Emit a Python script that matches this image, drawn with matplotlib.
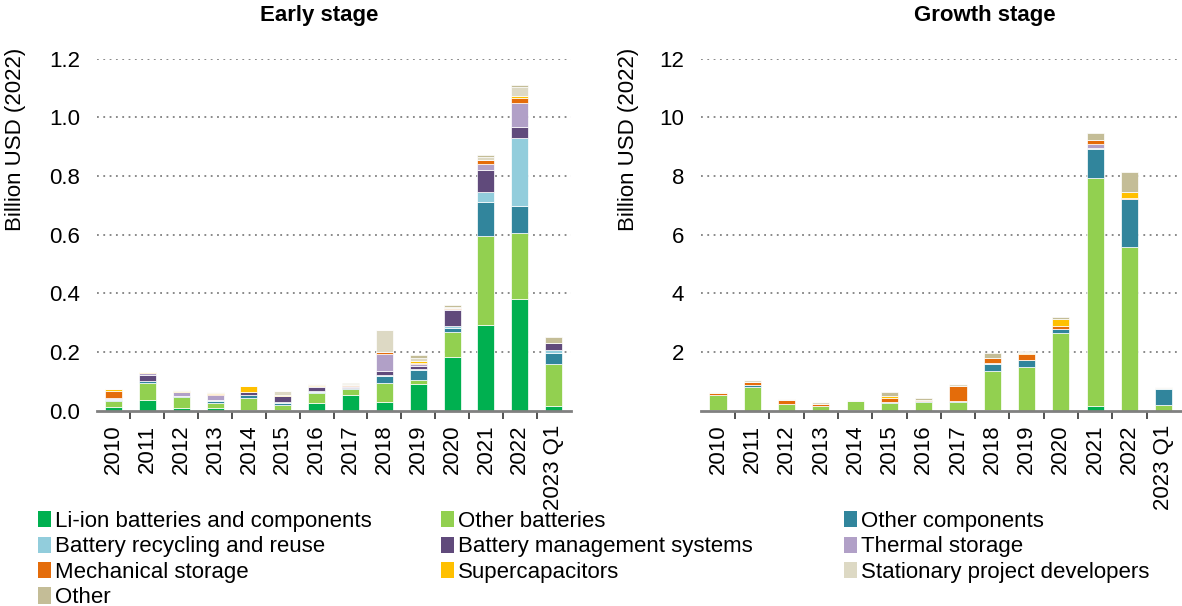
import numpy as np
import matplotlib
matplotlib.use("Agg")
import matplotlib.pyplot as plt
from matplotlib.patches import Patch
from matplotlib.ticker import FixedLocator

plt.rcParams['font.family'] = ['Liberation Sans', 'DejaVu Sans']

years = ['2010', '2011', '2012', '2013', '2014', '2015', '2016', '2017',
         '2018', '2019', '2020', '2021', '2022', '2023 Q1']

cats = ['Li-ion batteries and components', 'Other batteries', 'Other components',
        'Battery recycling and reuse', 'Battery management systems', 'Thermal storage',
        'Mechanical storage', 'Supercapacitors', 'Stationary project developers', 'Other']
colors = ['#00b050', '#92d050', '#31859c', '#92cddc', '#604a7b', '#b1a0c7',
          '#e46c0a', '#ffc000', '#ddd9c4', '#c4bd97']

# early stage, billion USD (2022)
early_liion = [0.014, 0.036, 0.009, 0.009, 0.003, 0.004, 0.027, 0.055, 0.030, 0.091, 0.182, 0.291, 0.380, 0.016]
early_otherbat = [0.020, 0.059, 0.039, 0.018, 0.039, 0.014, 0.034, 0.018, 0.064, 0.014, 0.086, 0.305, 0.225, 0.143]
early_othercomp = [0.004, 0.005, 0.001, 0.006, 0.011, 0.008, 0.004, 0.004, 0.025, 0.034, 0.014, 0.116, 0.093, 0.039]
early_recycling = [0.003, 0.002, 0.0, 0.003, 0.002, 0.002, 0.001, 0.002, 0.002, 0.002, 0.005, 0.032, 0.230, 0.009]
early_bms = [0.0, 0.020, 0.002, 0.002, 0.007, 0.023, 0.016, 0.003, 0.014, 0.011, 0.055, 0.075, 0.039, 0.023]
early_thermal = [0.002, 0.007, 0.011, 0.014, 0.0, 0.0, 0.003, 0.003, 0.057, 0.007, 0.005, 0.023, 0.082, 0.0]
early_mech = [0.025, 0.0, 0.0, 0.005, 0.0, 0.0, 0.0, 0.002, 0.009, 0.002, 0.002, 0.014, 0.018, 0.0]
early_supercap = [0.006, 0.002, 0.006, 0.004, 0.023, 0.001, 0.003, 0.002, 0.0, 0.009, 0.0, 0.0, 0.007, 0.002]
early_stationary = [0.001, 0.0, 0.001, 0.002, 0.0, 0.016, 0.002, 0.003, 0.073, 0.011, 0.006, 0.009, 0.030, 0.0]
early_other = [0.0, 0.001, 0.0, 0.0, 0.0, 0.0, 0.0, 0.002, 0.0, 0.009, 0.004, 0.005, 0.006, 0.018]

# growth stage, billion USD (2022)
growth_liion = [0.01, 0.0, 0.0, 0.0, 0.03, 0.0, 0.0, 0.0, 0.03, 0.0, 0.0, 0.15, 0.0, 0.0]
growth_otherbat = [0.51, 0.80, 0.22, 0.17, 0.30, 0.26, 0.30, 0.30, 1.31, 1.49, 2.65, 7.77, 5.57, 0.19]
growth_othercomp = [0.0, 0.06, 0.02, 0.0, 0.0, 0.02, 0.03, 0.03, 0.25, 0.23, 0.14, 1.00, 1.63, 0.55]
growth_recycling = [0.0, 0.0, 0.0, 0.0, 0.0, 0.0, 0.0, 0.0, 0.02, 0.02, 0.0, 0.02, 0.03, 0.05]
growth_bms = [0.0] * 14
growth_thermal = [0.03, 0.0, 0.0, 0.0, 0.0, 0.0, 0.0, 0.0, 0.0, 0.0, 0.0, 0.15, 0.0, 0.0]
growth_mech = [0.06, 0.125, 0.11, 0.06, 0.0, 0.15, 0.045, 0.50, 0.18, 0.18, 0.10, 0.14, 0.03, 0.0]
growth_supercap = [0.0, 0.0, 0.03, 0.0, 0.0, 0.06, 0.0, 0.0, 0.0, 0.045, 0.23, 0.0, 0.19, 0.0]
growth_stationary = [0.03, 0.045, 0.02, 0.06, 0.03, 0.0, 0.0, 0.07, 0.0, 0.03, 0.0, 0.0, 0.0, 0.02]
growth_other = [0.0, 0.0, 0.0, 0.0, 0.0, 0.14, 0.045, 0.0, 0.17, 0.04, 0.08, 0.22, 0.68, 0.0]

early = [early_liion, early_otherbat, early_othercomp, early_recycling, early_bms,
         early_thermal, early_mech, early_supercap, early_stationary, early_other]
growth = [growth_liion, growth_otherbat, growth_othercomp, growth_recycling, growth_bms,
          growth_thermal, growth_mech, growth_supercap, growth_stationary, growth_other]

FS = 16

fig = plt.figure(figsize=(11.82, 6.06), dpi=100)
ax1 = fig.add_axes([0.0817, 0.3223, 0.401, 0.5809])
ax2 = fig.add_axes([0.593, 0.3223, 0.406, 0.5809])

x = np.arange(len(years))


def draw(ax, data, ymax, yticks, ylabels):
    bottom = np.zeros(len(years))
    for vals, c in zip(data, colors):
        vals = np.array(vals)
        ax.bar(x, vals, 0.5, bottom=bottom, color=c, edgecolor='white', linewidth=0.5, zorder=3)
        bottom += vals
    ax.set_xlim(-0.5, len(years) - 0.5)
    ax.set_ylim(0, ymax)
    ax.set_yticks(yticks)
    ax.set_yticklabels(ylabels, fontsize=FS)
    ax.yaxis.grid(True, linestyle=(0, (1, 2.5)), color='#808080', linewidth=1.3, zorder=0)
    ax.yaxis.get_gridlines()[0].set_visible(False)
    for s in ['top', 'right', 'left']:
        ax.spines[s].set_visible(False)
    ax.spines['bottom'].set_color('#808080')
    ax.spines['bottom'].set_linewidth(2)
    ax.spines['bottom'].set_zorder(4)
    ax.tick_params(axis='y', length=0, pad=12)
    ax.set_xticks(x)
    ax.set_xticklabels(years, rotation=90, fontsize=FS)
    ax.tick_params(axis='x', which='major', length=0, pad=10)
    ax.xaxis.set_minor_locator(FixedLocator(np.arange(0.5, len(years) - 1, 1.0)))
    ax.tick_params(axis='x', which='minor', length=6, width=1.2, color='#333333', direction='out')


draw(ax1, early, 1.2, np.arange(0, 1.21, 0.2), ['%.1f' % v for v in np.arange(0, 1.21, 0.2)])
draw(ax2, growth, 12, [0, 2, 4, 6, 8, 10, 12], ['', '2', '4', '6', '8', '10', '12'])

fig.text(319 / 1182, 1 - 16 / 606, 'Early stage', ha='center', va='center', fontsize=FS, fontweight='bold')
fig.text(985 / 1182, 1 - 16 / 606, 'Growth stage', ha='center', va='center', fontsize=FS, fontweight='bold')
fig.text(16 / 1182, 1 - 139 / 606, 'Billion USD (2022)', rotation=90, ha='center', va='center', fontsize=FS)
fig.text(629 / 1182, 1 - 139 / 606, 'Billion USD (2022)', rotation=90, ha='center', va='center', fontsize=FS)

# legend laid out in three columns, row order as in the source
handles = [Patch(facecolor=c, edgecolor='none') for c in colors]
col_x = [38 / 1182, 441 / 1182, 844 / 1182]
cols = [[0, 3, 6, 9], [1, 4, 7], [2, 5, 8]]
for cx, idx in zip(col_x, cols):
    fig.legend([handles[i] for i in idx], [cats[i] for i in idx],
               loc='upper left', bbox_to_anchor=(cx, 1 - 511 / 606),
               frameon=False, fontsize=FS, handlelength=0.6, handleheight=0.75,
               handletextpad=0.15, labelspacing=0.2, borderpad=0, borderaxespad=0)

fig.savefig('out.png', dpi=100)
